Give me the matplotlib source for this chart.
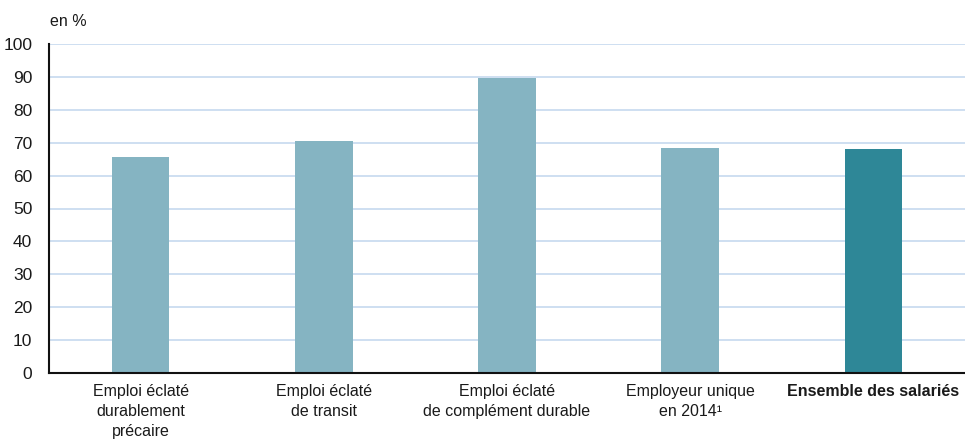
import matplotlib
matplotlib.use('Agg')
import matplotlib.pyplot as plt

categories = [
    'Emploi éclaté\ndurablement\nprécaire',
    'Emploi éclaté\nde transit',
    'Emploi éclaté\nde complément durable',
    'Employeur unique\nen 2014¹',
    'Ensemble des salariés',
]
values = [65.8, 70.6, 89.8, 68.5, 68.2]
colors = ['#85b4c2', '#85b4c2', '#85b4c2', '#85b4c2', '#2e8797']

plt.rcParams['font.family'] = ['Liberation Sans', 'DejaVu Sans']

fig = plt.figure(figsize=(9.65, 4.42), dpi=100)
ax = fig.add_axes([49 / 965, 1 - 373 / 442, 1 - 49 / 965, (373 - 44) / 442])

x = list(range(len(categories)))
ax.bar(x, values, width=0.315, color=colors, zorder=3)

ax.set_xlim(-0.5, 4.5)
ax.set_ylim(0, 100)
ax.set_yticks(range(0, 101, 10))
ax.yaxis.grid(True, color='#c6d9ef', linewidth=1.2, zorder=0)
ax.set_axisbelow(True)

ax.set_xticks(x)
ax.set_xticklabels(categories, fontsize=11.5, linespacing=1.4)
ax.get_xticklabels()[-1].set_fontweight('bold')
ax.tick_params(axis='both', length=0, colors='#1a1a1a')
ax.tick_params(axis='y', pad=12, labelsize=12.5)
ax.tick_params(axis='x', pad=8)

for side in ['top', 'right']:
    ax.spines[side].set_visible(False)
for side in ['left', 'bottom']:
    ax.spines[side].set_linewidth(1.5)
    ax.spines[side].set_color('#111111')
    ax.spines[side].set_zorder(4)

fig.text(50 / 965, 1 - 22 / 442, 'en %', fontsize=11.5, va='center', ha='left', color='#1a1a1a')

fig.savefig('out.png', dpi=100)
